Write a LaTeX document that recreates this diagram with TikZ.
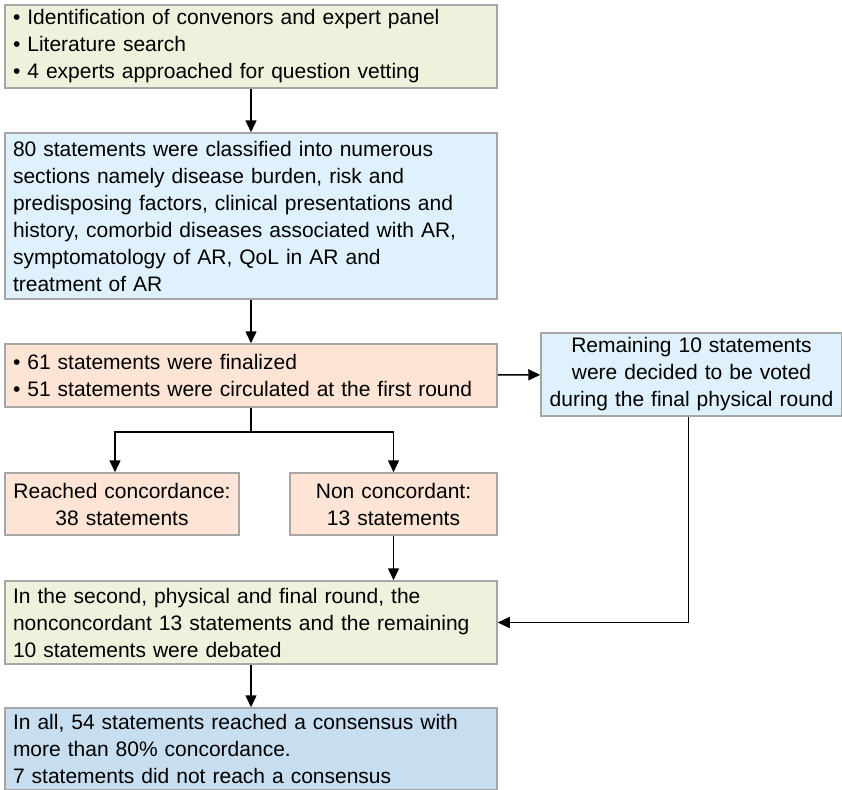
\documentclass[tikz,border=0pt]{standalone}
\usepackage{fontspec}
\setmainfont{Liberation Sans}
\usetikzlibrary{arrows.meta}

\definecolor{greenfill}{RGB}{238,241,220}
\definecolor{bluefill}{RGB}{222,241,252}
\definecolor{peachfill}{RGB}{253,228,212}
\definecolor{deepblue}{RGB}{199,222,241}
\definecolor{boxgray}{RGB}{166,166,166}

\begin{document}
\begin{tikzpicture}[x=1pt, y=-1pt,
	box/.style={draw=boxgray, line width=1.5pt, inner xsep=8pt, inner ysep=2pt,
		font=\fontsize{21}{27}\selectfont},
	widebox/.style={box, align=left, text width=476pt},
	arr/.style={-{Triangle[width=11pt,length=12pt]}, line width=1.5pt}]
	\useasboundingbox (0,0) rectangle (842,789);
	\node[widebox, fill=greenfill, minimum height=83pt] (prep) at (251,46.5)
		{\textbullet\ Identification of convenors and expert panel\\
		 \textbullet\ Literature search\\
		 \textbullet\ 4 experts approached for question vetting};
	\node[widebox, fill=bluefill, minimum height=166pt] (classify) at (251,216)
		{80 statements were classified into numerous\\
		 sections namely disease burden, risk and\\
		 predisposing factors, clinical presentations and\\
		 history, comorbid diseases associated with AR,\\
		 symptomatology of AR, QoL in AR and\\
		 treatment of AR};
	\node[widebox, fill=peachfill, minimum height=63pt] (round1) at (251,375.5)
		{\textbullet\ 61 statements were finalized\\
		 \textbullet\ 51 statements were circulated at the first round};
	\node[box, fill=bluefill, align=center, text width=285pt, minimum height=83pt] (remain) at (691.5,374.5)
		{Remaining 10 statements\\ were decided to be voted\\ during the final physical round};
	\node[box, fill=peachfill, align=center, text width=218pt, minimum height=62pt] (conc) at (122,504)
		{Reached concordance:\\ 38 statements};
	\node[box, fill=peachfill, align=center, text width=191pt, minimum height=62pt] (nonconc) at (393.5,504)
		{Non concordant:\\ 13 statements};
	\node[widebox, fill=greenfill, minimum height=83pt] (round2) at (251,622.5)
		{In the second, physical and final round, the\\
		 nonconcordant 13 statements and the remaining\\
		 10 statements were debated};
	\node[widebox, fill=deepblue, minimum height=82pt] (result) at (251,749)
		{In all, 54 statements reached a consensus with\\
		 more than 80\% concordance.\\
		 7 statements did not reach a consensus};
	\coordinate (split) at (251,432);
	\draw[arr] (prep) -- (classify);
	\draw[arr] (classify) -- (round1);
	\draw[arr] (round1) -- (remain);
	\draw[line width=1.5pt] (round1) -- (split);
	\draw[arr] (split) -| ([xshift=-7pt]conc.north);
	\draw[arr] (split) -| (nonconc.north);
	\draw[arr] (nonconc.south) -- (nonconc.south |- round2.north);
	\draw[arr] ([xshift=-3pt]remain.south) |- (round2.east);
	\draw[arr] (round2) -- (result);
\end{tikzpicture}
\end{document}
